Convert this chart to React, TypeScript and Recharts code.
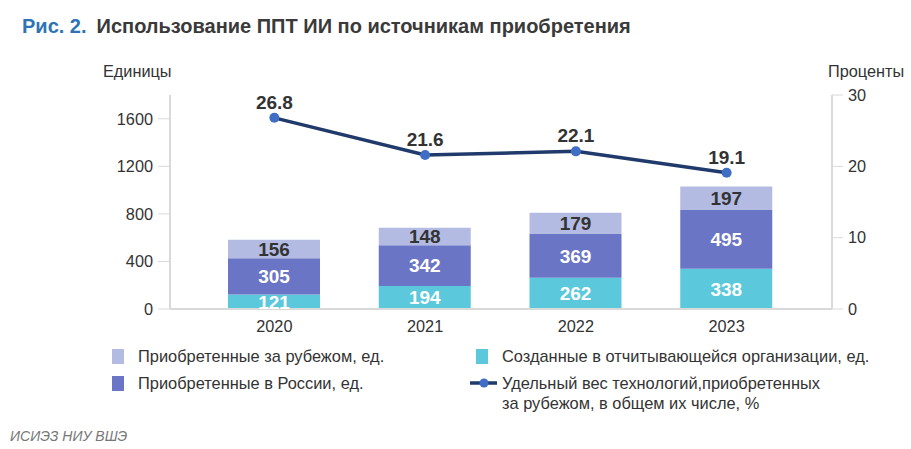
import { ComposedChart, Bar, Line, XAxis, YAxis, LabelList } from "recharts";

const years = ["2020", "2021", "2022", "2023"];
const createdInOrg = [121, 194, 262, 338];
const boughtInRussia = [305, 342, 369, 495];
const boughtAbroad = [156, 148, 179, 197];
const abroadShare = [26.8, 21.6, 22.1, 19.1];

const leftTicks = [0, 400, 800, 1200, 1600];
const rightTicks = [0, 10, 20, 30];

const C_CYAN = "#5bc8dc";
const C_BLUE = "#6a75c6";
const C_LIGHT = "#b3bbe3";
const C_LINE = "#1f3a6b";
const C_DOT = "#3f6ec4";
const FONT = "'Liberation Sans', Arial, sans-serif";

const data = years.map((y, i) => ({
  year: y,
  created: createdInOrg[i],
  russia: boughtInRussia[i],
  abroad: boughtAbroad[i],
  share: abroadShare[i],
}));

const legendItems = [
  { label: "Приобретенные за рубежом, ед.", color: C_LIGHT, x: 112, y: 347 },
  { label: "Приобретенные в России, ед.", color: C_BLUE, x: 112, y: 374 },
  { label: "Созданные в отчитывающейся организации, ед.", color: C_CYAN, x: 476, y: 347 },
];

const App = () => {
  return (
    <div style={{ position: "absolute", left: 0, top: 0, width: 911, height: 449, background: "#fff", fontFamily: FONT }}>
      <div style={{ position: "absolute", left: 22, top: 15, fontSize: 20, fontWeight: "bold", whiteSpace: "nowrap" }}>
        <span style={{ color: "#2e74b5" }}>Рис. 2.</span>
        <span style={{ color: "#3a3a3a", marginLeft: 10 }}>Использование ППТ ИИ по источникам приобретения</span>
      </div>
      <div style={{ position: "absolute", left: 103, top: 62, fontSize: 16.3, color: "#333" }}>Единицы</div>
      <div style={{ position: "absolute", left: 828, top: 62, fontSize: 16.3, color: "#333" }}>Проценты</div>

      <div style={{ position: "absolute", left: 0, top: 0 }}>
        <ComposedChart width={911} height={449} data={data} margin={{ top: 95, bottom: 110, left: 0, right: 0 }}>
          <XAxis
            dataKey="year"
            axisLine={{ stroke: "#d9d9d9", strokeWidth: 2 }}
            tickLine={false}
            tickSize={0}
            tickMargin={11}
            padding={{ left: 29, right: 30 }}
            tick={{ fill: "#333", fontSize: 16.3, fontFamily: FONT }}
          />
          <YAxis
            yAxisId="left"
            width={170}
            domain={[0, 1800]}
            ticks={leftTicks}
            interval={0}
            axisLine={{ stroke: "#d9d9d9", strokeWidth: 2 }}
            tickLine={{ stroke: "#d9d9d9" }}
            tickSize={12}
            tickMargin={5}
            tick={{ fill: "#333", fontSize: 16.3, fontFamily: FONT }}
          />
          <YAxis
            yAxisId="right"
            orientation="right"
            width={79}
            domain={[0, 30]}
            ticks={rightTicks}
            interval={0}
            axisLine={{ stroke: "#d9d9d9", strokeWidth: 2 }}
            tickLine={{ stroke: "#d9d9d9" }}
            tickSize={11}
            tickMargin={5}
            tick={{ fill: "#333", fontSize: 16.3, fontFamily: FONT }}
          />
          <Bar yAxisId="left" dataKey="created" stackId="a" fill={C_CYAN} barSize={92} isAnimationActive={false}>
            <LabelList dataKey="created" position="center" fill="#fff" fontSize={19} fontWeight="bold" fontFamily={FONT} />
          </Bar>
          <Bar yAxisId="left" dataKey="russia" stackId="a" fill={C_BLUE} barSize={92} isAnimationActive={false}>
            <LabelList dataKey="russia" position="center" fill="#fff" fontSize={19} fontWeight="bold" fontFamily={FONT} />
          </Bar>
          <Bar yAxisId="left" dataKey="abroad" stackId="a" fill={C_LIGHT} barSize={92} isAnimationActive={false}>
            <LabelList dataKey="abroad" position="center" fill="#333" fontSize={19} fontWeight="bold" fontFamily={FONT} />
          </Bar>
          <Line
            yAxisId="right"
            dataKey="share"
            stroke={C_LINE}
            strokeWidth={3.5}
            dot={{ r: 5, fill: C_DOT, stroke: C_DOT, strokeWidth: 0 }}
            isAnimationActive={false}
          >
            <LabelList dataKey="share" position="top" offset={9} fill="#333" fontSize={19} fontWeight="bold" fontFamily={FONT} formatter={(v: number) => v.toFixed(1)} />
          </Line>
        </ComposedChart>
      </div>

      {legendItems.map((it) => (
        <div key={it.label} style={{ position: "absolute", left: it.x, top: it.y, display: "flex", alignItems: "center", fontSize: 16.4, color: "#333", whiteSpace: "nowrap" }}>
          <span style={{ display: "inline-block", width: 12, height: 15, background: it.color, marginRight: 14 }} />
          {it.label}
        </div>
      ))}
      <svg style={{ position: "absolute", left: 469, top: 376 }} width={30} height={14}>
        <line x1={1} y1={7} x2={28} y2={7} stroke={C_LINE} strokeWidth={3.5} />
        <circle cx={15} cy={7} r={4.5} fill={C_DOT} />
      </svg>
      <div style={{ position: "absolute", left: 502, top: 373, fontSize: 16.4, color: "#333", lineHeight: "20px" }}>
        Удельный вес технологий,приобретенных
        <br />
        за рубежом, в общем их числе, %
      </div>
      <div style={{ position: "absolute", left: 10, top: 428, fontSize: 14, fontStyle: "italic", color: "#777" }}>ИСИЭЗ НИУ ВШЭ</div>
    </div>
  );
};

export default App;
